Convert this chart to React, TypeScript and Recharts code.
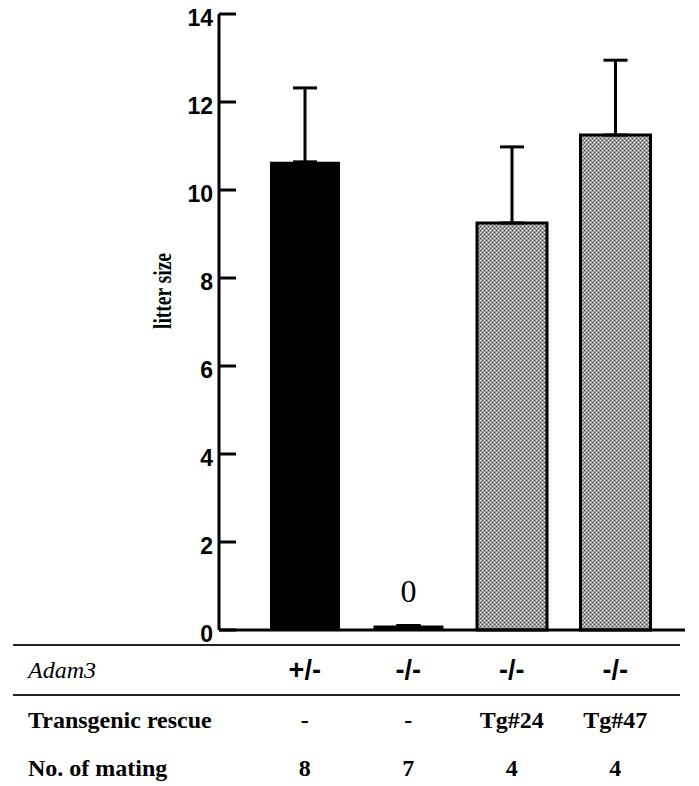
import { Bar, BarChart, Cell, ErrorBar, LabelList, XAxis, YAxis } from "recharts";

// groups along the x axis
const genotypes = ["+/-", "-/-", "-/-", "-/-"];
const rescues = ["-", "-", "Tg#24", "Tg#47"];
const matings = ["8", "7", "4", "4"];

// litter size (mean) and upper SD
const litterSize = [10.64, 0.1, 9.25, 11.25];
const litterSd = [1.68, 0, 1.73, 1.7];
const barNotes = ["", "0", "", ""];

const yTicks = [0, 2, 4, 6, 8, 10, 12, 14];

const rowLabels = ["Adam3", "Transgenic rescue", "No. of mating"];

const data = genotypes.map((g, i) => ({
    key: `g${i}`,
    genotype: g,
    rescue: rescues[i],
    mating: matings[i],
    size: litterSize[i],
    err: [0, litterSd[i]],
    note: barNotes[i],
}));

const W = 699;
const H = 786;
const AXIS_X = 219;
const AXIS_Y = 630;

const serif = "'Liberation Serif', 'Times New Roman', serif";
const sans = "'Liberation Sans', Arial, sans-serif";

function YTick(props: any) {
    const { x, y, payload } = props;
    return (
        <g>
            <line x1={x + 6} x2={x + 23} y1={y} y2={y} stroke="#000" strokeWidth={3} />
            <text
                x={x}
                y={y + 4}
                textAnchor="end"
                dominantBaseline="central"
                fontFamily={sans}
                fontWeight="bold"
                fontSize={23}
                fill="#000"
            >
                {payload.value}
            </text>
        </g>
    );
}

function XTick(props: any) {
    const { x, y, index } = props;
    const d = data[index];
    if (!d) return null;
    return (
        <g>
            <text x={x} y={y + 40} textAnchor="middle" dominantBaseline="central" fontFamily={sans} fontWeight="bold" fontSize={27} fill="#000">
                {d.genotype}
            </text>
            <text x={x} y={y + 90} textAnchor="middle" dominantBaseline="central" fontFamily={serif} fontWeight="bold" fontSize={24} fill="#000">
                {d.rescue}
            </text>
            <text x={x} y={y + 138} textAnchor="middle" dominantBaseline="central" fontFamily={serif} fontWeight="bold" fontSize={24} fill="#000">
                {d.mating}
            </text>
        </g>
    );
}

export default function App() {
    return (
        <div style={{ position: "absolute", left: 0, top: 0, background: "#fff" }}>
            <BarChart
                width={W}
                height={H}
                data={data}
                margin={{ top: 14, right: 14, bottom: 0, left: 0 }}
            >
                <defs>
                    <pattern id="hatch" width="4" height="4" patternUnits="userSpaceOnUse">
                        <rect width="4" height="4" fill="#9c9c9c" />
                        <rect x="0" y="0" width="1" height="1" fill="#ffffff" />
                        <rect x="2" y="2" width="1" height="1" fill="#ffffff" />
                        <rect x="2" y="0" width="1" height="1" fill="#4a4a4a" />
                        <rect x="0" y="2" width="1" height="1" fill="#4a4a4a" />
                    </pattern>
                </defs>
                <XAxis
                    dataKey="key"
                    height={H - AXIS_Y}
                    padding={{ left: 34, right: 18 }}
                    axisLine={{ stroke: "#000", strokeWidth: 3 }}
                    tickLine={false}
                    tickSize={0}
                    tickMargin={0}
                    tick={<XTick />}
                    interval={0}
                />
                <YAxis
                    width={AXIS_X}
                    domain={[0, 14]}
                    ticks={yTicks}
                    interval={0}
                    axisLine={{ stroke: "#000", strokeWidth: 3 }}
                    tickLine={false}
                    tickSize={0}
                    tickMargin={6}
                    tick={<YTick />}
                />
                <Bar
                    dataKey="size"
                    barSize={70}
                    isAnimationActive={false}
                >
                    {data.map((d, i) => (
                        <Cell
                            key={d.key}
                            fill={i < 2 ? "#000" : "url(#hatch)"}
                            stroke="#000"
                            strokeWidth={i < 2 ? 0 : 3}
                        />
                    ))}
                    <ErrorBar
                        dataKey="err"
                        direction="y"
                        width={12}
                        stroke="#000"
                        strokeWidth={3}
                        isAnimationActive={false}
                    />
                    <LabelList
                        dataKey="note"
                        position="top"
                        offset={24}
                        fontFamily={serif}
                        fontSize={32}
                        fill="#000"
                    />
                </Bar>
                <text
                    x={162}
                    y={291}
                    transform="rotate(-90 162 291)"
                    textAnchor="middle"
                    dominantBaseline="central"
                    fontFamily={serif}
                    fontWeight="bold"
                    fontSize={26}
                    textLength={76}
                    lengthAdjust="spacingAndGlyphs"
                    fill="#000"
                >
                    litter size
                </text>
                <line x1={13} x2={680} y1={645} y2={645} stroke="#222" strokeWidth={2} />
                <line x1={13} x2={680} y1={695} y2={695} stroke="#222" strokeWidth={2} />
                <text x={28} y={670} dominantBaseline="central" fontFamily={serif} fontStyle="italic" fontSize={24} fill="#000">
                    {rowLabels[0]}
                </text>
                <text x={28} y={720} dominantBaseline="central" fontFamily={serif} fontWeight="bold" fontSize={24} fill="#000">
                    {rowLabels[1]}
                </text>
                <text x={28} y={768} dominantBaseline="central" fontFamily={serif} fontWeight="bold" fontSize={24} fill="#000">
                    {rowLabels[2]}
                </text>
            </BarChart>
        </div>
    );
}
